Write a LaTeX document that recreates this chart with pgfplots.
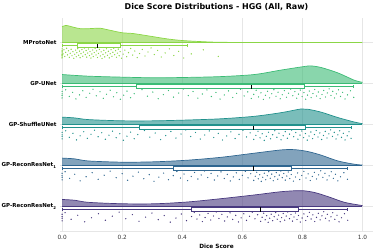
\documentclass[border=0pt]{standalone}
\usepackage{fontspec}
\setmainfont{DejaVu Sans}
\usepackage{pgfplots}
\usepackage{pgfplotstable}
\pgfplotsset{compat=1.18}
\usepgfplotslibrary{fillbetween,statistics}
\definecolor{c1}{HTML}{8BD646}
\definecolor{c2}{HTML}{3BBB75}
\definecolor{c3}{HTML}{21918C}
\definecolor{c4}{HTML}{2F6690}
\definecolor{c5}{HTML}{48397F}
\definecolor{gridc}{HTML}{E6E6E6}
\pgfplotstableread{
j a b c d e
.618 0 0 0 0 0
.236 0 0 0 0 0
.854 0 0 0 0 0
.472 0 0 0 0 0
.090 0 .012 .012 .010 .010
.708 0 .024 .024 .025 .030
.326 0 .035 .036 .042 .052
.944 0 .046 .048 .060 .075
.562 .003 .058 .060 .080 .098
.180 .006 .069 .072 .100 .121
.798 .009 .080 .084 .120 .144
.416 .012 .092 .096 .140 .167
.034 .015 .103 .108 .160 .190
.652 .018 .114 .120 .180 .212
.270 .021 .126 .132 .200 .234
.888 .024 .137 .144 .218 .256
.506 .027 .148 .156 .236 .278
.124 .030 .160 .168 .254 .299
.742 .033 .171 .180 .272 .320
.360 .036 .182 .192 .290 .340
.978 .039 .194 .204 .306 .360
.596 .042 .205 .216 .322 .379
.214 .045 .216 .228 .338 .397
.832 .047 .228 .240 .354 .414
.450 .049 .240 .252 .370 .431
.068 .052 .266 .274 .382 .440
.686 .055 .284 .292 .394 .449
.304 .058 .302 .310 .406 .458
.922 .060 .320 .328 .418 .467
.540 .063 .337 .345 .430 .476
.158 .066 .354 .362 .441 .486
.776 .069 .371 .379 .452 .495
.394 .071 .388 .396 .463 .504
.012 .074 .404 .412 .474 .513
.630 .077 .420 .428 .485 .522
.248 .080 .436 .444 .496 .532
.866 .082 .452 .460 .507 .541
.484 .085 .467 .475 .518 .550
.102 .088 .482 .490 .529 .559
.720 .091 .497 .505 .540 .568
.338 .093 .512 .520 .550 .578
.956 .096 .526 .534 .560 .587
.574 .099 .540 .548 .570 .596
.192 .102 .554 .562 .580 .605
.810 .104 .568 .576 .590 .614
.428 .107 .581 .589 .600 .624
.046 .110 .594 .602 .610 .633
.664 .113 .606 .614 .619 .642
.282 .115 .618 .626 .628 .651
.900 .118 .630 .638 .638 .661
.518 .121 .638 .645 .643 .666
.136 .124 .646 .652 .648 .671
.754 .127 .654 .659 .653 .676
.372 .130 .662 .666 .658 .681
.990 .133 .670 .673 .663 .686
.608 .136 .677 .680 .668 .691
.226 .139 .684 .687 .673 .696
.844 .142 .691 .694 .678 .701
.462 .145 .698 .701 .683 .706
.080 .148 .705 .708 .688 .711
.698 .151 .712 .715 .693 .716
.316 .154 .719 .722 .698 .721
.934 .157 .726 .729 .703 .726
.552 .160 .733 .736 .708 .731
.170 .163 .740 .743 .713 .736
.788 .166 .747 .750 .718 .741
.406 .169 .754 .757 .723 .746
.024 .172 .761 .764 .728 .751
.642 .175 .768 .771 .733 .757
.260 .178 .775 .778 .738 .762
.878 .181 .781 .785 .743 .767
.496 .184 .787 .792 .748 .772
.114 .187 .793 .798 .753 .777
.732 .190 .799 .804 .758 .782
.350 .193 .805 .810 .763 .787
.968 .198 .811 .816 .770 .793
.586 .203 .817 .822 .777 .799
.204 .209 .823 .828 .784 .805
.822 .215 .829 .834 .791 .811
.440 .221 .835 .840 .798 .817
.058 .228 .841 .846 .805 .823
.676 .235 .847 .852 .812 .829
.294 .242 .853 .858 .819 .835
.912 .250 .859 .864 .826 .841
.530 .258 .865 .870 .833 .847
.148 .267 .871 .876 .840 .853
.766 .276 .877 .882 .847 .859
.384 .286 .883 .888 .854 .865
.002 .296 .889 .894 .861 .871
.620 .307 .895 .900 .868 .877
.238 .318 .901 .906 .875 .883
.856 .330 .907 .912 .882 .889
.474 .343 .913 .918 .889 .895
.092 .357 .920 .924 .896 .901
.710 .372 .927 .930 .903 .908
.328 .388 .934 .936 .910 .915
.946 .405 .942 .942 .918 .922
.564 .430 .950 .949 .927 .930
.182 .470 .960 .955 .938 .940
.800 .520 .971 .962 .950 .951
}\rain
\pgfplotsset{
  boxplot/draw direction=x,
  boxplot/every box/.style={fill=white, line width=0.6pt},
  boxplot/every median/.style={draw=black, line width=0.9pt},
  boxplot/every whisker/.style={line width=0.8pt},
  dens/.style={line width=0.7pt, smooth, tension=0.5},
}
\begin{document}
\begin{tikzpicture}
\begin{axis}[
  name=ax,
  scale only axis, width=313bp, height=213bp,
  xmin=-0.007, xmax=1.035, ymin=-0.6, ymax=4.6,
  xtick={0,0.2,0.4,0.6,0.8,1.0},
  xticklabels={0.0,0.2,0.4,0.6,0.8,1.0},
  ytick={0,1,2,3,4},
  yticklabels={GP-ReconResNet\textsubscript{2},GP-ReconResNet\textsubscript{1},GP-ShuffleUNet,GP-UNet,MProtoNet},
  grid=major, major grid style={gridc, line width=0.5pt},
  axis x line*=bottom, axis y line*=left,
  x axis line style={gridc, line width=0.8pt},
  y axis line style={draw=none},
  major tick length=0,
  xticklabel style={font=\fontsize{5.8}{6}\selectfont, text=black!80, yshift=-1pt},
  yticklabel style={font=\bfseries\fontsize{5.5}{6}\selectfont},
  xlabel={Dice Score},
  xlabel style={font=\bfseries\fontsize{5.8}{6}\selectfont, yshift=3pt},
  title={Dice Score Distributions - HGG (All, Raw)},
  title style={font=\bfseries\fontsize{8}{9}\selectfont, yshift=-2pt},
  /pgf/number format/assume math mode=true,
  clip=false,
]
% MProtoNet
\addplot[name path=t1, draw=c1, dens] coordinates {(0,4.385) (0.013,4.42) (0.035,4.38) (0.06,4.34) (0.09,4.34) (0.126,4.35) (0.16,4.30) (0.2,4.24) (0.237,4.22) (0.29,4.16) (0.35,4.09) (0.4,4.05) (0.46,4.025) (0.51,4.01) (0.6,4.002) (0.7,4.0) (1.0,4.0)};
\addplot[name path=b1, draw=c1, line width=0.7pt] coordinates {(0,4) (1,4)};
\addplot[fill=c1, fill opacity=0.6, draw=none] fill between[of=t1 and b1];
\addplot[draw=c1, boxplot prepared={draw position=3.925, lower whisker=0, lower quartile=0.049, median=0.118, upper quartile=0.193, upper whisker=0.416, box extend=0.1, whisker extend=0.07}] coordinates {};
\addplot[only marks, color=c1, mark=*, mark size=0.4pt, mark options={draw=none, fill=c1, fill opacity=0.5}] table[x=a, y expr={3.87-0.26*\thisrow{j}}] {\rain};
% GP-UNet
\addplot[name path=t2, draw=c2, dens] coordinates {(0,3.22) (0.087,3.18) (0.2,3.156) (0.31,3.14) (0.42,3.15) (0.53,3.17) (0.64,3.22) (0.73,3.33) (0.81,3.42) (0.83,3.43) (0.863,3.39) (0.918,3.26) (0.973,3.08) (1.0,3.03)};
\addplot[name path=b2, draw=c2, line width=0.7pt] coordinates {(0,3) (1,3)};
\addplot[fill=c2, fill opacity=0.6, draw=none] fill between[of=t2 and b2];
\addplot[draw=c2, boxplot prepared={draw position=2.925, lower whisker=0, lower quartile=0.248, median=0.63, upper quartile=0.805, upper whisker=0.971, box extend=0.1, whisker extend=0.07}] coordinates {};
\addplot[only marks, color=c2, mark=*, mark size=0.4pt, mark options={draw=none, fill=c2, fill opacity=0.5}] table[x=b, y expr={2.87-0.26*\thisrow{j}}] {\rain};
% GP-ShuffleUNet
\addplot[name path=t3, draw=c3, dens] coordinates {(0,2.18) (0.043,2.16) (0.087,2.12) (0.2,2.09) (0.31,2.09) (0.42,2.11) (0.53,2.14) (0.64,2.20) (0.73,2.29) (0.796,2.38) (0.82,2.37) (0.863,2.30) (0.918,2.17) (0.973,2.06) (1.0,2.02)};
\addplot[name path=b3, draw=c3, line width=0.7pt] coordinates {(0,2) (1,2)};
\addplot[fill=c3, fill opacity=0.6, draw=none] fill between[of=t3 and b3];
\addplot[draw=c3, boxplot prepared={draw position=1.925, lower whisker=0, lower quartile=0.256, median=0.638, upper quartile=0.81, upper whisker=0.962, box extend=0.1, whisker extend=0.07}] coordinates {};
\addplot[only marks, color=c3, mark=*, mark size=0.4pt, mark options={draw=none, fill=c3, fill opacity=0.5}] table[x=c, y expr={1.87-0.26*\thisrow{j}}] {\rain};
% GP-ReconResNet1
\addplot[name path=t4, draw=c4, dens] coordinates {(0,1.18) (0.043,1.16) (0.087,1.11) (0.2,1.08) (0.31,1.09) (0.42,1.13) (0.53,1.20) (0.64,1.30) (0.73,1.38) (0.775,1.385) (0.818,1.34) (0.863,1.25) (0.918,1.11) (0.973,1.03) (1.0,1.01)};
\addplot[name path=b4, draw=c4, line width=0.7pt] coordinates {(0,1) (1,1)};
\addplot[fill=c4, fill opacity=0.6, draw=none] fill between[of=t4 and b4];
\addplot[draw=c4, boxplot prepared={draw position=0.925, lower whisker=0, lower quartile=0.37, median=0.638, upper quartile=0.763, upper whisker=0.95, box extend=0.1, whisker extend=0.07}] coordinates {};
\addplot[only marks, color=c4, mark=*, mark size=0.4pt, mark options={draw=none, fill=c4, fill opacity=0.5}] table[x=d, y expr={0.87-0.26*\thisrow{j}}] {\rain};
% GP-ReconResNet2
\addplot[name path=t5, draw=c5, dens] coordinates {(0,0.17) (0.043,0.15) (0.087,0.10) (0.2,0.065) (0.31,0.065) (0.42,0.11) (0.53,0.19) (0.64,0.28) (0.73,0.36) (0.796,0.385) (0.84,0.34) (0.885,0.24) (0.94,0.10) (1.0,0.02)};
\addplot[name path=b5, draw=c5, line width=0.7pt] coordinates {(0,0) (1,0)};
\addplot[fill=c5, fill opacity=0.6, draw=none] fill between[of=t5 and b5];
\addplot[draw=c5, boxplot prepared={draw position=-0.075, lower whisker=0, lower quartile=0.431, median=0.661, upper quartile=0.787, upper whisker=0.951, box extend=0.1, whisker extend=0.07}] coordinates {};
\addplot[only marks, color=c5, mark=*, mark size=0.4pt, mark options={draw=none, fill=c5, fill opacity=0.5}] table[x=e, y expr={-0.13-0.26*\thisrow{j}}] {\rain};
\end{axis}
\pgfresetboundingbox
\path[use as bounding box] ([shift={(-60bp,-20bp)}]ax.south west) rectangle ([shift={(8bp,18bp)}]ax.north east);
\end{tikzpicture}
\end{document}
